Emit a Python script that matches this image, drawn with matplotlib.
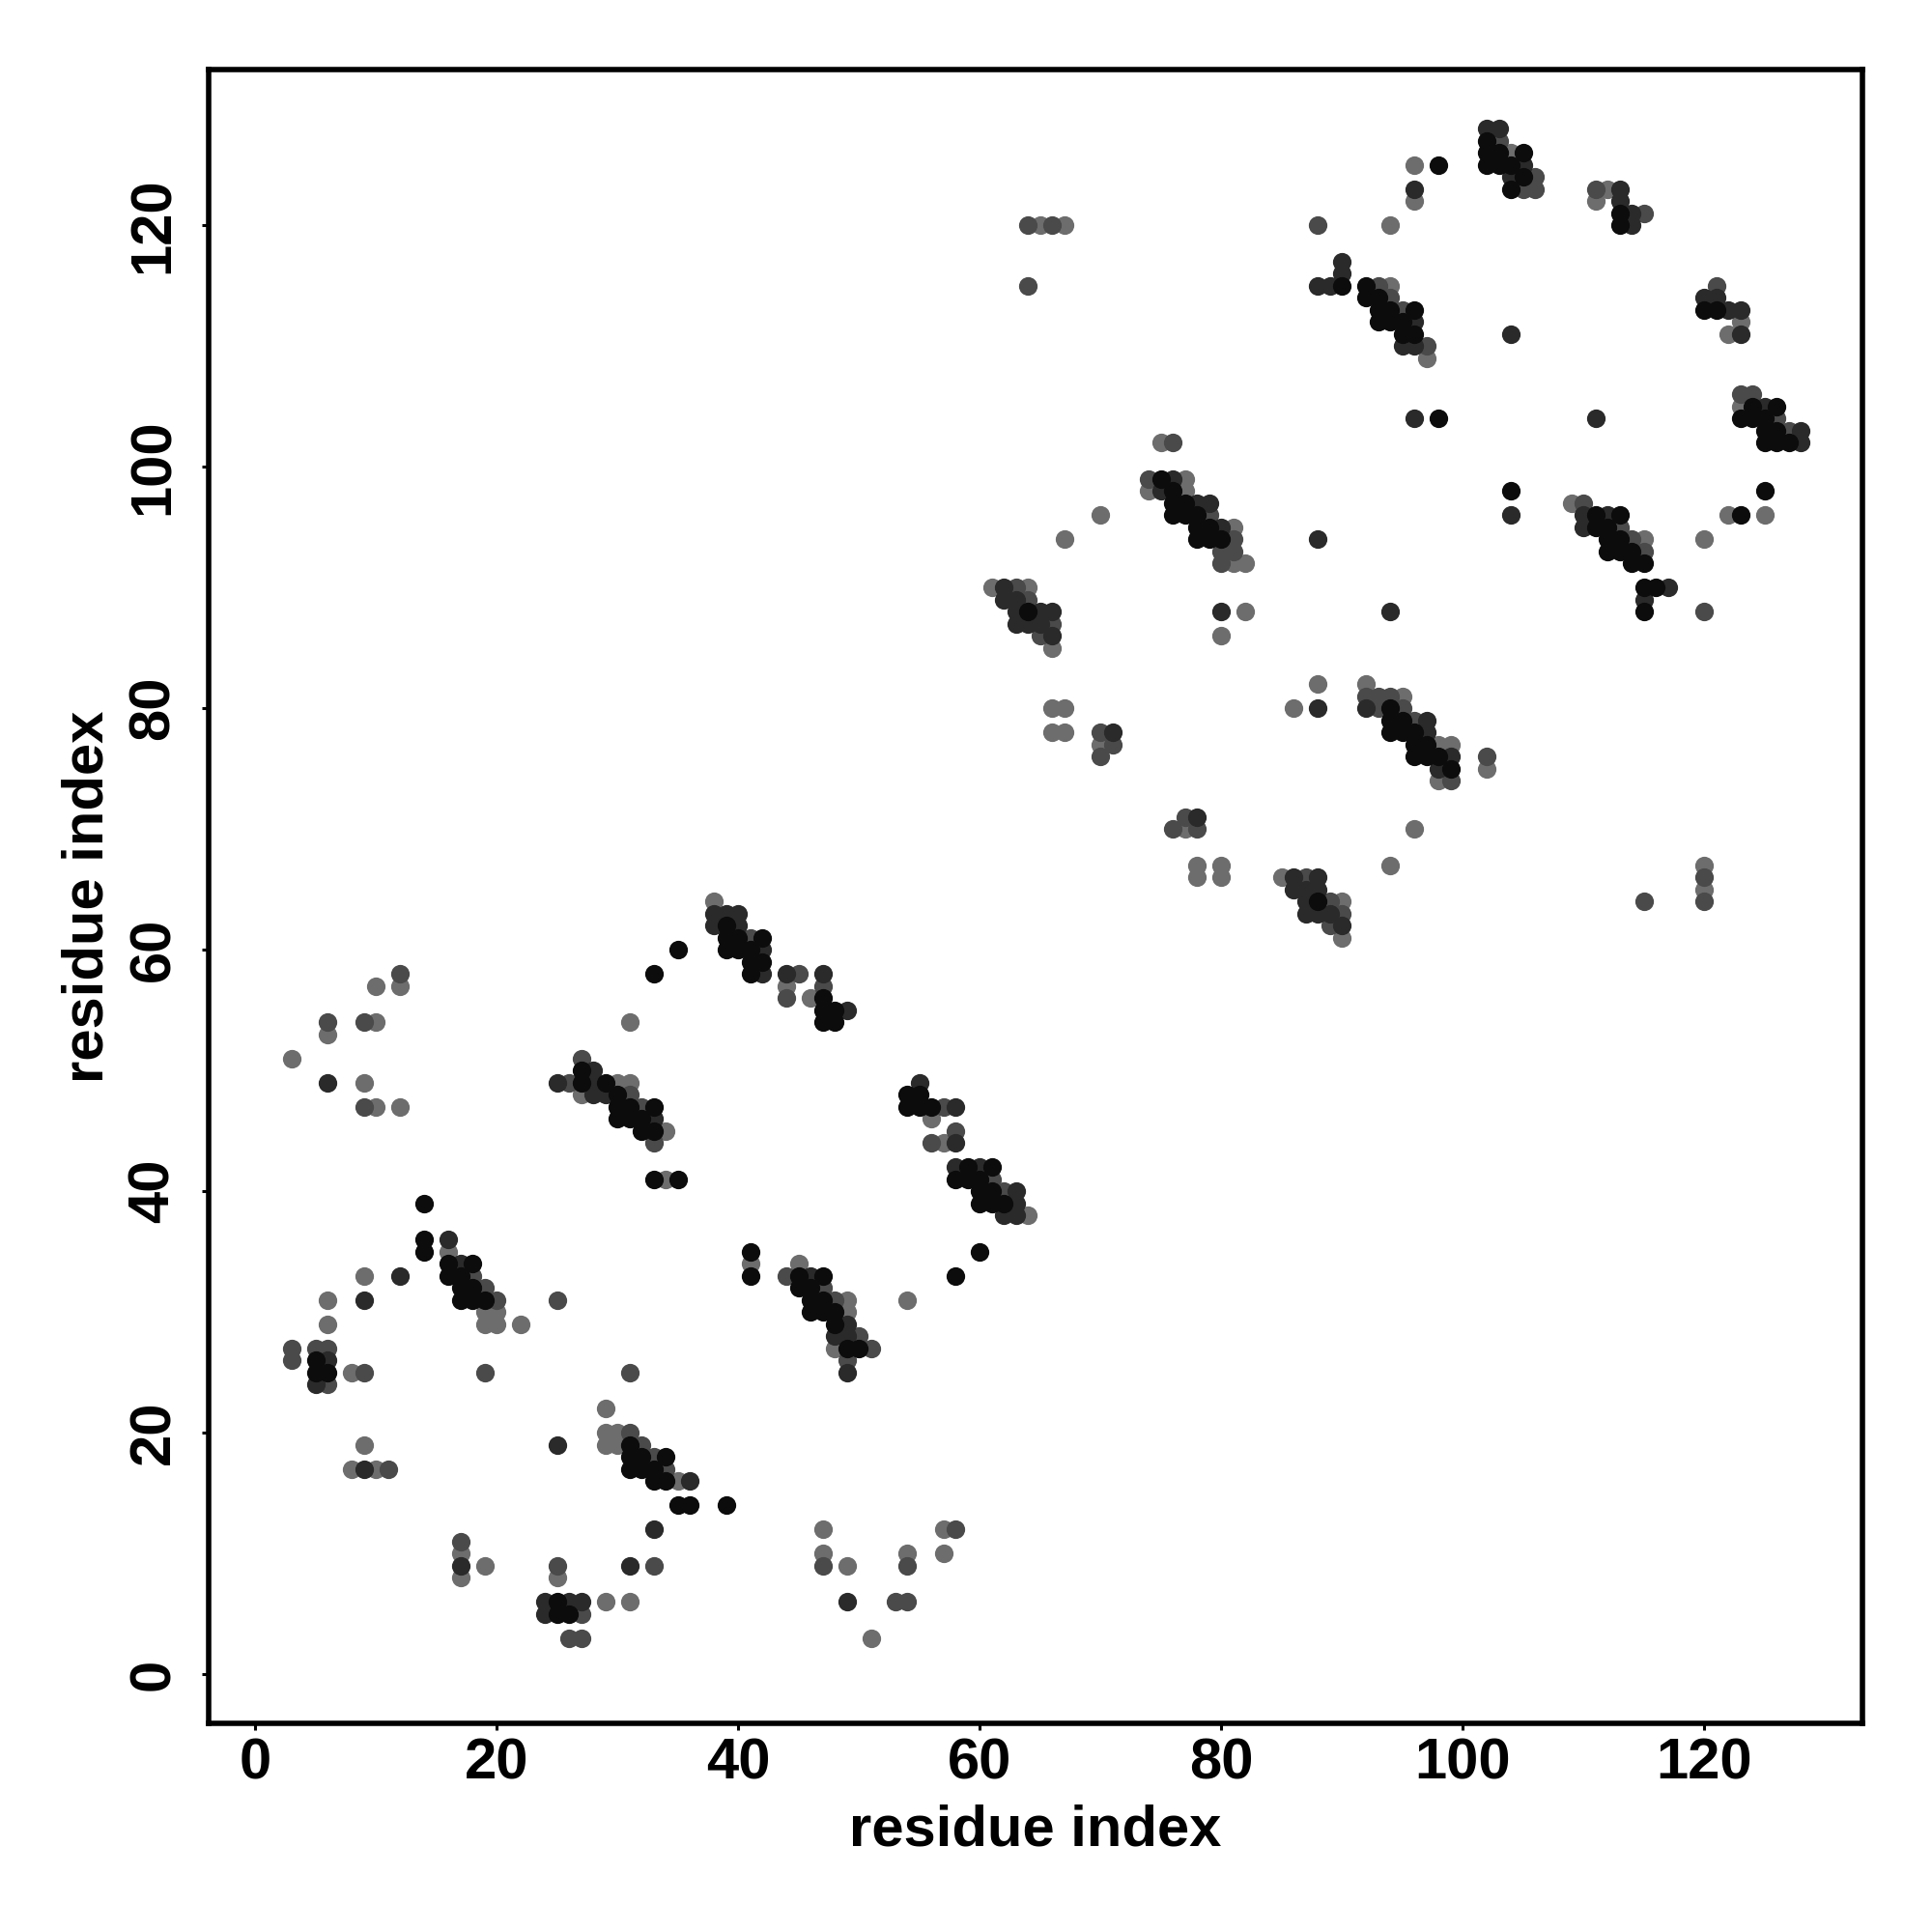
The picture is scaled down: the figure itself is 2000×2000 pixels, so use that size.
import matplotlib
matplotlib.use("Agg")
import matplotlib.pyplot as plt

plt.rcParams['font.family'] = ['Liberation Sans', 'DejaVu Sans']
plt.rcParams['font.weight'] = 'bold'

# contacts (residue i, residue j), grouped by shade of the dot
contacts_black = [
    (33, 58), (35, 60), (27, 50), (27, 49), (29, 49), (30, 48), (30, 47), (31, 47), (33, 47),
    (30, 46), (31, 46), (32, 46), (32, 45), (33, 45), (33, 41), (35, 41), (14, 39), (14, 36),
    (14, 35), (16, 34), (16, 33), (18, 34), (17, 33), (17, 32), (18, 32), (17, 31), (18, 31),
    (19, 31), (5, 26), (5, 25), (6, 25), (31, 19), (31, 18), (32, 18), (34, 18), (31, 17),
    (32, 17), (33, 17), (33, 16), (34, 16), (35, 14), (36, 14), (39, 14), (25, 6), (25, 5),
    (26, 5), (58, 33), (60, 35), (41, 35), (41, 33), (45, 33), (47, 33), (45, 32), (46, 32),
    (46, 31), (47, 31), (46, 30), (47, 30), (48, 30), (48, 29), (49, 27), (50, 27), (39, 62),
    (39, 61), (40, 61), (42, 61), (39, 60), (40, 60), (41, 60), (41, 59), (42, 59), (41, 58),
    (47, 56), (47, 55), (48, 55), (47, 54), (48, 54), (54, 48), (55, 48), (54, 47), (55, 47),
    (56, 47), (59, 42), (61, 42), (58, 41), (59, 41), (60, 41), (60, 40), (61, 40), (60, 39),
    (61, 39), (62, 39),
    (75, 99), (76, 98), (76, 97), (77, 97), (76, 96), (77, 96), (78, 96), (78, 95), (79, 95),
    (78, 94), (79, 94), (80, 94), (64, 88), (94, 80), (94, 79), (95, 79), (94, 78), (95, 78),
    (96, 78), (96, 77), (97, 77), (96, 76), (97, 76), (98, 76), (99, 75), (88, 64), (111, 96),
    (113, 96), (111, 95), (112, 95), (112, 94), (113, 94), (112, 93), (113, 93), (114, 93),
    (114, 92), (115, 92), (115, 90), (116, 90), (115, 88), (98, 125), (90, 115), (92, 115),
    (92, 114), (93, 114), (93, 113), (94, 113), (96, 113), (93, 112), (94, 112), (95, 112),
    (95, 111), (96, 111), (98, 104), (102, 127), (102, 126), (103, 126), (105, 126), (102, 125),
    (103, 125), (104, 125), (105, 124), (104, 123), (113, 121), (113, 120), (120, 113),
    (121, 113), (124, 105), (126, 105), (123, 104), (124, 104), (125, 104), (125, 103),
    (126, 103), (125, 102), (126, 102), (127, 102), (104, 98), (125, 98), (123, 96),
]
contacts_dark = [
    (6, 49), (28, 50), (25, 49), (28, 49), (28, 48), (29, 48), (33, 46), (16, 36), (17, 34),
    (12, 33), (9, 31), (6, 26), (5, 24), (36, 16), (25, 19), (33, 12), (9, 17), (17, 9), (31, 9),
    (24, 6), (26, 6), (27, 6), (24, 5), (46, 33), (49, 29), (48, 28), (49, 28), (49, 25), (49, 6),
    (38, 63), (39, 63), (40, 63), (38, 62), (40, 62), (42, 60), (42, 58), (44, 58), (47, 58),
    (49, 55), (55, 49), (58, 47), (58, 44), (58, 42), (60, 42), (63, 40), (63, 39), (62, 38),
    (63, 38),
    (76, 99), (75, 98), (78, 97), (79, 97), (80, 95), (88, 94), (80, 88), (94, 88), (62, 90),
    (62, 89), (63, 89), (63, 88), (65, 88), (66, 88), (63, 87), (64, 87), (65, 87), (66, 86),
    (71, 78), (88, 80), (92, 80), (97, 79), (97, 78), (99, 76), (98, 75), (78, 71), (86, 66),
    (88, 66), (86, 65), (87, 65), (88, 65), (87, 64), (87, 63), (88, 63), (89, 63), (90, 62),
    (110, 96), (112, 96), (110, 95), (117, 90), (115, 89), (90, 117), (90, 116),
    (88, 115), (89, 115), (96, 123), (96, 112), (95, 110), (96, 110), (96, 104), (102, 128),
    (103, 128), (105, 125), (104, 124), (113, 123), (113, 122), (114, 121), (114, 120),
    (104, 111), (120, 114), (121, 114), (122, 113), (123, 113), (123, 111), (125, 105),
    (128, 103), (128, 102), (111, 104), (104, 96),
]
contacts_mid = [
    (12, 58), (6, 54), (9, 54), (9, 47), (27, 51), (26, 49), (31, 48), (32, 47), (33, 44),
    (18, 33), (19, 32), (20, 31), (25, 31), (3, 27), (3, 26), (5, 27), (6, 27), (6, 24), (9, 25),
    (19, 25), (31, 25), (31, 20), (32, 19), (33, 18), (34, 17), (11, 17), (17, 11), (25, 9),
    (33, 9), (27, 5), (26, 3), (27, 3), (44, 33), (47, 32), (48, 31), (50, 28), (51, 27),
    (49, 26), (47, 9), (53, 6), (54, 6), (54, 9), (58, 12), (41, 61), (45, 58), (47, 57),
    (44, 56), (57, 47), (58, 45), (56, 44), (61, 41), (62, 40),
    (76, 102), (74, 99), (79, 96), (81, 94), (80, 93), (81, 93), (80, 92), (63, 90), (64, 89),
    (66, 87), (65, 86), (70, 78), (71, 77), (70, 76), (92, 81), (93, 81), (94, 81), (93, 80),
    (95, 80), (96, 79), (99, 74), (102, 76), (77, 71), (76, 70), (78, 70), (87, 66), (89, 64),
    (90, 63), (89, 62), (115, 64), (120, 66), (120, 64), (110, 97), (113, 95), (114, 94),
    (115, 93), (120, 88), (64, 120), (66, 120), (88, 120), (93, 115), (94, 114), (95, 113),
    (97, 110), (103, 127), (106, 124), (105, 123), (106, 123), (111, 123), (115, 121),
    (121, 115), (123, 106), (124, 106), (126, 104), (127, 103), (64, 115),
]
contacts_light = [
    (12, 57), (10, 57), (6, 53), (10, 54), (3, 51), (9, 49), (10, 47), (12, 47), (31, 54),
    (30, 49), (31, 49), (27, 48), (34, 45), (34, 41), (16, 35), (19, 30), (20, 30), (19, 29),
    (20, 29), (22, 29), (9, 33), (6, 31), (6, 29), (8, 25), (29, 22), (29, 20), (30, 20),
    (29, 19), (30, 19), (35, 16), (9, 19), (8, 17), (10, 17), (17, 10), (17, 8), (19, 9),
    (25, 8), (29, 6), (31, 6), (45, 34), (49, 31), (49, 30), (48, 27), (47, 12), (47, 10),
    (49, 9), (51, 3), (54, 10), (57, 12), (57, 10), (54, 31), (41, 34), (38, 64), (44, 57),
    (46, 56), (56, 46), (57, 44), (64, 38),
    (70, 96), (67, 94), (75, 102), (77, 99), (74, 98), (77, 98), (81, 95), (81, 92), (82, 92),
    (82, 88), (80, 86), (61, 90), (64, 90), (66, 85), (66, 80), (67, 80), (66, 78), (67, 78),
    (70, 77), (88, 82), (86, 80), (92, 82), (95, 81), (98, 77), (99, 77), (98, 74), (102, 75),
    (96, 70), (94, 67), (77, 70), (78, 67), (78, 66), (80, 67), (80, 66), (85, 66), (90, 64),
    (90, 61), (120, 67), (120, 65), (109, 97), (115, 94), (120, 94), (65, 120), (67, 120),
    (94, 120), (96, 125), (96, 122), (94, 115), (97, 109), (104, 126), (112, 123), (111, 122),
    (123, 112), (122, 111), (123, 105), (122, 96), (125, 96),
]

shades = ['#6d6d6d', '#4a4a4a', '#2a2a2a', '#0c0c0c']
groups = [contacts_light, contacts_mid, contacts_dark, contacts_black]
ticks = [0, 20, 40, 60, 80, 100, 120]

fig = plt.figure(figsize=(10, 10), dpi=200)
ax = fig.add_axes([0.108, 0.108, 0.856, 0.856])

for pts, col in zip(groups, shades):
    xs = [p[0] for p in pts]
    ys = [p[1] for p in pts]
    ax.scatter(xs, ys, s=48, c=col, linewidths=0, zorder=2)

ax.set_xlim(-3.86, 133.1)
ax.set_ylim(-4.08, 132.9)
ax.set_xticks(ticks)
ax.set_yticks(ticks)
for sp in ax.spines.values():
    sp.set_linewidth(2.0)
ax.tick_params(axis='both', length=2.4, width=1.1, labelsize=21.5)
ax.tick_params(axis='x', pad=3)
ax.tick_params(axis='y', pad=8)
for lab in ax.get_yticklabels():
    lab.set_rotation(90)
    lab.set_va('center')
ax.set_xlabel('residue index', fontsize=21.5, fontweight='bold', labelpad=5)
ax.set_ylabel('residue index', fontsize=21.5, fontweight='bold', labelpad=5)

fig.savefig('out.png', dpi=200)
